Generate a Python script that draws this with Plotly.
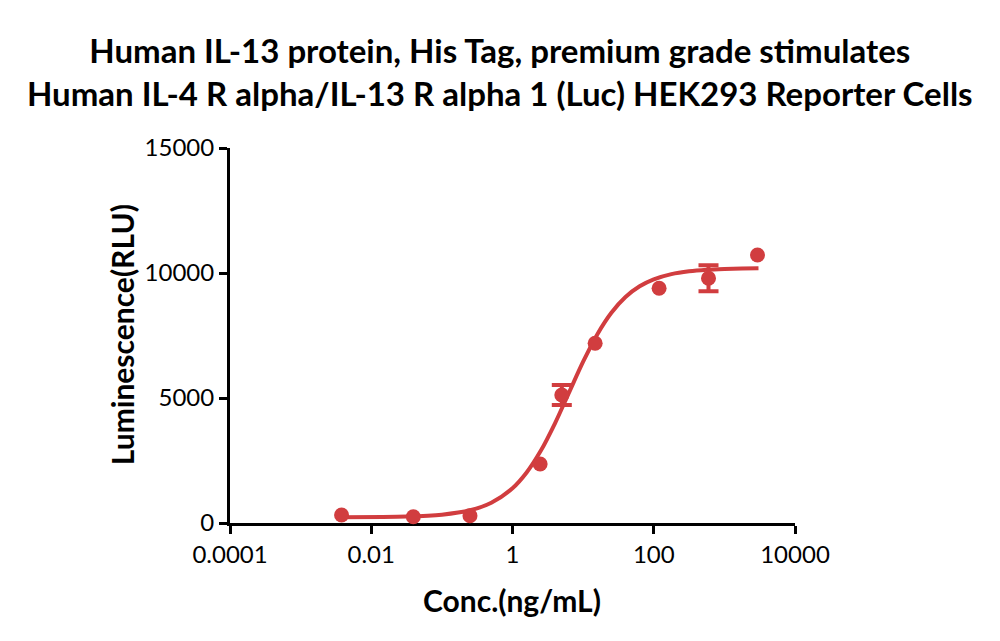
import plotly.graph_objects as go

# Measured data (concentration ng/mL, luminescence RLU)
conc = [0.0038, 0.0394, 0.25, 2.46, 4.99, 14.8, 119, 596, 2944]
lum = [320, 252, 292, 2360, 5120, 7188, 9388, 9788, 10720]
# Points that carry error bars
err_conc = [4.99, 596]
err_lum = [5120, 9788]
err_sd = [400, 520]

# Fitted curve
fit_conc = [0.00382, 0.0316, 0.1, 0.251, 0.501, 1.0, 1.585, 2.512, 3.981, 6.31,
            10.0, 15.85, 25.12, 39.81, 63.1, 100, 177.8, 316.2, 562.3, 1000,
            1778, 3041]
fit_lum = [233, 259, 333, 509, 810, 1391, 2020, 2886, 3978, 5215,
           6451, 7544, 8410, 9039, 9467, 9744, 9953, 10067, 10129, 10162,
           10180, 10189]

title_text = ("Human IL-13 protein, His Tag, premium grade stimulates<br>"
              "Human IL-4 R alpha/IL-13 R alpha 1 (Luc) HEK293 Reporter Cells")
x_title = "Conc.(ng/mL)"
y_title = "Luminescence(RLU)"
x_ticks = [0.0001, 0.01, 1, 100, 10000]
x_ticklabels = ["0.0001", "0.01", "1", "100", "10000"]
y_ticks = [0, 5000, 10000, 15000]
y_ticklabels = ["0", "5000", "10000", "15000"]

red = "#D13D3F"
font_family = "Lato"

fig = go.Figure()
fig.add_trace(go.Scatter(
    x=fit_conc, y=fit_lum, mode="lines",
    line=dict(color=red, width=4, shape="spline", smoothing=0.8),
    hoverinfo="skip", showlegend=False))
fig.add_trace(go.Scatter(
    x=err_conc, y=err_lum, mode="markers",
    marker=dict(color=red, size=1, opacity=0),
    error_y=dict(type="data", array=err_sd, visible=True,
                 color=red, thickness=4, width=10),
    showlegend=False, hoverinfo="skip"))
fig.add_trace(go.Scatter(
    x=conc, y=lum, mode="markers",
    marker=dict(color=red, size=15),
    showlegend=False, cliponaxis=False))

axis_common = dict(
    showline=True, linecolor="black", linewidth=3,
    ticks="outside", ticklen=8, tickwidth=3, tickcolor="black",
    showgrid=False, zeroline=False, layer="below traces",
    tickfont=dict(family=font_family, size=24, color="black"),
)

fig.update_layout(
    width=1000, height=641,
    margin=dict(l=230, r=205, t=148, b=118),
    paper_bgcolor="white", plot_bgcolor="white",
    xaxis=dict(type="log", range=[-4, 4], tickvals=x_ticks,
               ticktext=x_ticklabels, **axis_common),
    yaxis=dict(range=[0, 15000], tickvals=y_ticks, ticktext=y_ticklabels,
               **axis_common),
    annotations=[
        dict(text="<b>" + title_text + "</b>", xref="paper", yref="paper",
             x=0.478, y=1.203, xanchor="center", yanchor="middle",
             showarrow=False,
             font=dict(family=font_family, size=33, color="black")),
        dict(text="<b>" + x_title + "</b>", xref="paper", yref="paper",
             x=0.499, y=-0.205, xanchor="center", yanchor="middle",
             showarrow=False,
             font=dict(family=font_family, size=30, color="black")),
        dict(text="<b>" + y_title + "</b>", xref="paper", yref="paper",
             x=-0.191, y=0.501, xanchor="center", yanchor="middle",
             showarrow=False, textangle=-90,
             font=dict(family=font_family, size=30, color="black")),
    ],
)

fig.write_html("out.html")
